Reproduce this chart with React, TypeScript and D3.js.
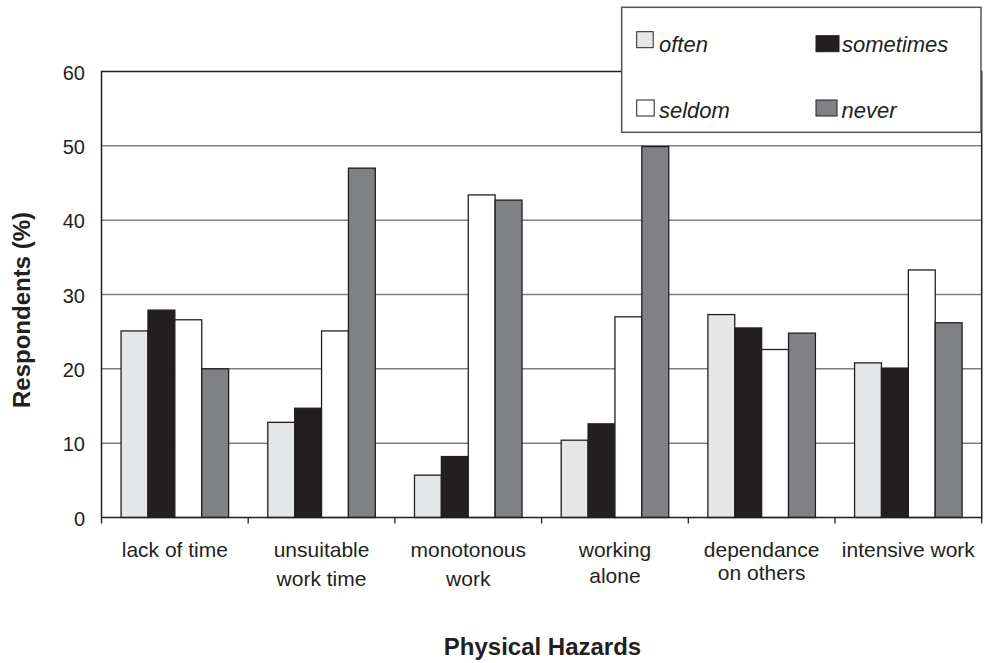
import React from "react";
import * as d3 from "d3";

const categories = [
  ["lack of time"],
  ["unsuitable", "work time"],
  ["monotonous", "work"],
  ["working", "alone"],
  ["dependance", "on others"],
  ["intensive work"],
];
const seriesNames = ["often", "sometimes", "seldom", "never"];
const often = [25.1, 12.8, 5.7, 10.4, 27.3, 20.8];
const sometimes = [27.9, 14.7, 8.2, 12.6, 25.5, 20.1];
const seldom = [26.6, 25.1, 43.4, 27.0, 22.6, 33.3];
const never = [20.0, 47.0, 42.7, 49.9, 24.8, 26.2];
const yTicks = [0, 10, 20, 30, 40, 50, 60];

const seriesValues = [often, sometimes, seldom, never];
const colors = ["#e5e6e8", "#231f20", "#ffffff", "#808184"];
const secondLineGap = [0, 29, 29, 26, 23, 0];

const W = 986;
const H = 663;
const left = 101.5;
const right = 981.7;
const top = 71.5;
const bottom = 517.5;
const font = "'Liberation Sans', Arial, sans-serif";
const ink = "#231f20";

export default function App() {
  const idx = d3.range(categories.length);
  const x0 = d3
    .scaleBand<number>()
    .domain(idx)
    .range([left, right])
    .paddingInner(0.267)
    .paddingOuter(0.1335);
  const x1 = d3
    .scaleBand<number>()
    .domain(d3.range(seriesNames.length))
    .range([0, x0.bandwidth()]);
  const y = d3.scaleLinear().domain([0, 60]).range([bottom, top]);
  const step = (right - left) / categories.length;

  const legendItems = [
    { s: 0, sx: 636.7, sw: 16.5, sy: 31.7, tx: 659, ty: 52.3 },
    { s: 1, sx: 816, sw: 23, sy: 35.7, tx: 842, ty: 52.3 },
    { s: 2, sx: 636.7, sw: 17.5, sy: 100, tx: 659, ty: 118.3 },
    { s: 3, sx: 816, sw: 21, sy: 100, tx: 841.5, ty: 118.3 },
  ];

  return (
    <svg
      width={W}
      height={H}
      style={{ position: "absolute", left: 0, top: 0, background: "#fff" }}
      fontFamily={font}
    >
      <rect x={0} y={0} width={W} height={H} fill="#fff" />
      {yTicks
        .filter((t) => t > 0 && t < 60)
        .map((t) => (
          <line
            key={"g" + t}
            x1={left}
            x2={right}
            y1={y(t)}
            y2={y(t)}
            stroke="#7f7f7f"
            strokeWidth={1.5}
          />
        ))}
      {idx.map((ci) =>
        seriesValues.map((vals, si) => (
          <rect
            key={ci + "-" + si}
            x={(x0(ci) as number) + (x1(si) as number)}
            y={y(vals[ci])}
            width={x1.bandwidth()}
            height={y(0) - y(vals[ci])}
            fill={colors[si]}
            stroke={ink}
            strokeWidth={1.3}
          />
        ))
      )}
      <rect
        x={left}
        y={top}
        width={right - left}
        height={bottom - top}
        fill="none"
        stroke={ink}
        strokeWidth={1.5}
      />
      {d3.range(categories.length + 1).map((k) => (
        <line
          key={"xt" + k}
          x1={left + k * step}
          x2={left + k * step}
          y1={bottom}
          y2={bottom + 6}
          stroke={ink}
          strokeWidth={1.3}
        />
      ))}
      {yTicks.map((t) => (
        <text
          key={"yl" + t}
          x={85}
          y={y(t) + 8}
          textAnchor="end"
          fontSize={20}
          fill={ink}
        >
          {t}
        </text>
      ))}
      {categories.map((lines, ci) => (
        <text key={"xl" + ci} textAnchor="middle" fontSize={21} fill={ink}>
          {lines.map((ln, li) => (
            <tspan
              key={li}
              x={(x0(ci) as number) + x0.bandwidth() / 2}
              y={557 + li * secondLineGap[ci]}
            >
              {ln}
            </tspan>
          ))}
        </text>
      ))}
      <text
        transform={`translate(30,310) rotate(-90)`}
        textAnchor="middle"
        fontSize={24}
        fontWeight="bold"
        fill={ink}
      >
        Respondents (%)
      </text>
      <text
        x={542.5}
        y={655}
        textAnchor="middle"
        fontSize={24}
        fontWeight="bold"
        fill={ink}
      >
        Physical Hazards
      </text>
      <rect
        x={621.7}
        y={7.3}
        width={981 - 621.7}
        height={132.3 - 7.3}
        fill="#fff"
        stroke="#555"
        strokeWidth={1.5}
      />
      {legendItems.map((it) => (
        <g key={"lg" + it.s}>
          <rect
            x={it.sx}
            y={it.sy}
            width={it.sw}
            height={16}
            fill={colors[it.s]}
            stroke={ink}
            strokeWidth={1}
          />
          <text x={it.tx} y={it.ty} fontSize={22} fontStyle="italic" fill={ink}>
            {seriesNames[it.s]}
          </text>
        </g>
      ))}
    </svg>
  );
}
